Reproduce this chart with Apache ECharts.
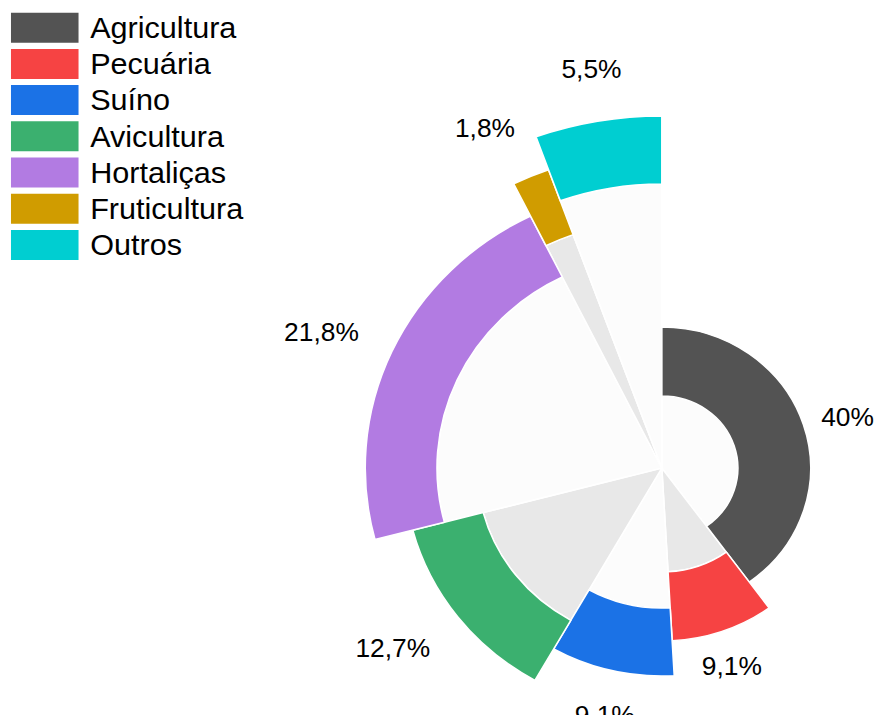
<!DOCTYPE html>
<html>
<head>
<meta charset="utf-8">
<script src="https://cdn.jsdelivr.net/npm/echarts@6/dist/echarts.min.js"></script>
<style>
  html, body { margin: 0; padding: 0; background: #ffffff; overflow: hidden; }
  #chart { width: 828px; height: 715px; transform: scaleX(1.05556); transform-origin: 0 0; }
</style>
</head>
<body>
<div id="chart"></div>
<script>
// ---- data ----
const categories = ['Agricultura', 'Pecuária', 'Suíno', 'Avicultura', 'Hortaliças', 'Fruticultura', 'Outros'];
const shares = [40, 9.1, 9.1, 12.7, 21.8, 1.8, 5.5];

// ---- layout / style ----
const colors = ['#535353', '#f64343', '#1b72e6', '#3bb06f', '#b27be2', '#d09c00', '#00ced1'];
const innerColors = ['#fcfcfc', '#e8e8e8', '#fcfcfc', '#e8e8e8', '#fcfcfc', '#e8e8e8', '#fcfcfc'];
const innerRadius = [72, 104, 140, 175, 213, 248, 284];
const outerRadius = [141, 173, 208, 244, 281, 317, 352];
const labelRadius = [180, 206, 250, 309, 347, 376, 401];
const labelNudge = [2.0, 1.1, -0.8, 2.4, -1.6, -3.2, 0.4];
const CENTER = [627, 468];
const FONT = "'Liberation Sans', Arial, sans-serif";

function fmt(v) { return String(v).replace('.', ',') + '%'; }

function dataFor(i, style, label) {
  return categories.map((name, j) => ({
    name: name,
    value: shares[j],
    itemStyle: j === i ? style : { color: 'transparent', borderWidth: 0 },
    label: j === i && label ? label : { show: false }
  }));
}

const base = {
  type: 'pie',
  center: CENTER,
  startAngle: 90,
  clockwise: true,
  silent: true,
  animation: false,
  emphasis: { disabled: true },
  labelLine: { show: false },
  label: { show: false }
};

const series = [];
categories.forEach((c, i) => {
  series.push(Object.assign({}, base, {
    name: 'inner-' + i,
    radius: [0, innerRadius[i]],
    data: dataFor(i, { color: innerColors[i], borderColor: '#ffffff', borderWidth: 1.5 })
  }));
});
categories.forEach((c, i) => {
  series.push(Object.assign({}, base, {
    name: 'band-' + i,
    radius: [innerRadius[i], outerRadius[i]],
    data: dataFor(i, { color: colors[i], borderColor: '#ffffff', borderWidth: 1.5 })
  }));
});
categories.forEach((c, i) => {
  series.push(Object.assign({}, base, {
    name: 'label-' + i,
    radius: [labelRadius[i] - 1, labelRadius[i] + 1],
    startAngle: 90 - labelNudge[i],
    data: dataFor(i, { color: 'transparent', borderWidth: 0 }, {
      show: true,
      position: 'inside',
      formatter: p => fmt(p.value),
      color: '#000000',
      fontSize: 25,
      fontFamily: FONT,
      textBorderWidth: 0,
      textShadowBlur: 0
    })
  }));
});

const chart = echarts.init(document.getElementById('chart'), null, { renderer: 'svg' });
chart.setOption({
  backgroundColor: '#ffffff',
  animation: false,
  legend: {
    orient: 'vertical',
    left: 10.4,
    top: 12.7,
    padding: 0,
    itemWidth: 64,
    itemHeight: 30,
    itemGap: 6.2,
    icon: 'rect',
    selectedMode: false,
    textStyle: { fontSize: 29, color: '#000000', fontFamily: FONT, padding: [0, 0, 0, 6] },
    data: categories.map((n, i) => ({ name: n, itemStyle: { color: colors[i], borderWidth: 0 } }))
  },
  series: series
});
</script>
</body>
</html>
